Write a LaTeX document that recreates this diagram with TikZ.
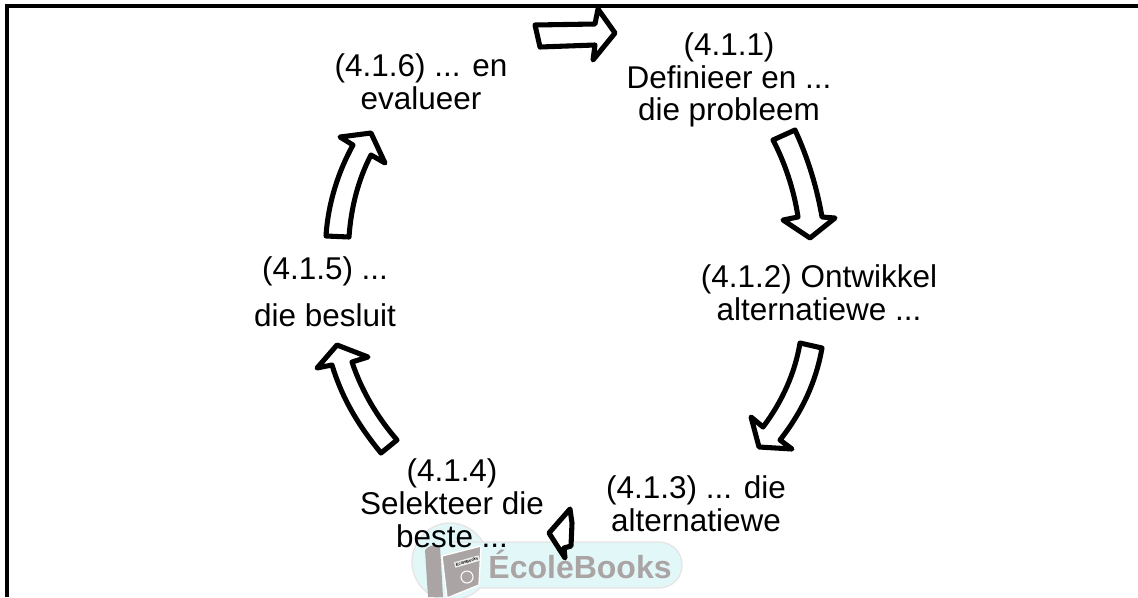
\documentclass[tikz,border=0pt]{standalone}
\usepackage{fontspec}
\setmainfont{Liberation Sans}
\usepackage{tikz}
\definecolor{logocyan}{RGB}{226,248,248}
\definecolor{logogrey}{RGB}{170,164,164}
\tikzset{
  blockarrow/.style={draw=black,fill=white,line width=3.8pt,line join=round},
  steptext/.style={inner sep=0.75pt,align=center,font=\fontsize{23.6}{24.6}\selectfont},
}

\begin{document}
\begin{tikzpicture}[x=0.75pt,y=0.75pt,yscale=-1,xscale=1]
\useasboundingbox (0,0) rectangle (1138,597);

%Shape: Logo
\clip (0,0) rectangle (1138,597);
\draw [draw=logogrey!30,fill=logocyan,line width=1pt] (450,542) -- (658,542) .. controls (672,542) and (682,552) .. (682,565) .. controls (682,578) and (672,588) .. (658,588) -- (480,588) .. controls (472,596) and (462,600) .. (450,600) .. controls (429,600) and (412,583) .. (412,562) .. controls (412,541) and (429,523) .. (450,523) .. controls (464,523) and (476,531) .. (483,542) -- cycle ;
\draw [draw=none,fill=logogrey] (425,550) .. controls (428,546) and (434,544) .. (440,546) -- (443,597) -- (428,597) -- cycle ;
\draw [draw=white,fill=logogrey,line width=1pt] (442,556) -- (481,546) -- (479,585) -- (447,598) -- cycle ;
\draw (467,561.5) node (logolabel) [fill=white!80!logogrey,inner sep=1pt,rotate=16,font=\fontsize{3}{3}\selectfont\bfseries] {EcoleBooks};
\draw [draw=white,line width=0.8pt] (467,577) circle (6) ;
\draw (580,564) node (logotext) [inner sep=0pt,text=logogrey,font=\fontsize{24}{24}\selectfont\bfseries] {ÉcoleBooks};

%Frame
\draw [line width=3pt] (7,597) -- (7,6) -- (1138,6) ;

%Shape: Arrow top
\draw [blockarrow] (535,25) -- (595,24) -- (598,9) -- (615,33) -- (593,60) -- (595,45) -- (540,47) -- cycle ;
%Shape: Arrow right upper
\draw [blockarrow] (773,140) -- (795,130) .. controls (808,158) and (817,188) .. (822,217) -- (835,218) -- (810,238) -- (783,220) -- (798,217) .. controls (794,190) and (785,163) .. (773,140) -- cycle ;
%Shape: Arrow right lower
\draw [blockarrow] (800,343) -- (822,348) .. controls (816,382) and (802,412) .. (780,440) -- (792,449) -- (759,447) -- (751,417) -- (763,427) .. controls (782,402) and (795,373) .. (800,343) -- cycle ;
%Shape: Arrow bottom
\draw [blockarrow] (570,509) -- (572,523) -- (571,546) -- (564,548) -- (565,558) -- (549,533) -- cycle ;
%Shape: Arrow left lower
\draw [blockarrow] (397,440) -- (381,453) .. controls (358,425) and (342,398) .. (332,365) -- (317,368) -- (337,345) -- (368,357) -- (352,362) .. controls (362,392) and (378,418) .. (397,440) -- cycle ;
%Shape: Arrow left upper
\draw [blockarrow] (326,236) -- (349,237) .. controls (351,208) and (358,180) .. (371,155) -- (385,163) -- (371,133) -- (340,137) -- (353,145) .. controls (338,172) and (328,204) .. (326,236) -- cycle ;

% Text Node
\draw (729,80) node (stepone) [steptext] {(4.1.1)\\Definieer en ...\\die probleem};
% Text Node
\draw (819,293) node (steptwo) [steptext] {(4.1.2) Ontwikkel\\alternatiewe ...};
% Text Node
\draw (696,504) node (stepthree) [steptext] {(4.1.3) ... die\\alternatiewe};
% Text Node
\draw (452,503) node (stepfour) [steptext] {(4.1.4)\\Selekteer die\\beste ...};
% Text Node
\draw (325,292) node (stepfive) [steptext] {(4.1.5) ...\\[10.5pt]die besluit};
% Text Node
\draw (421,82) node (stepsix) [steptext] {(4.1.6) ... en\\evalueer};

\end{tikzpicture}
\end{document}
